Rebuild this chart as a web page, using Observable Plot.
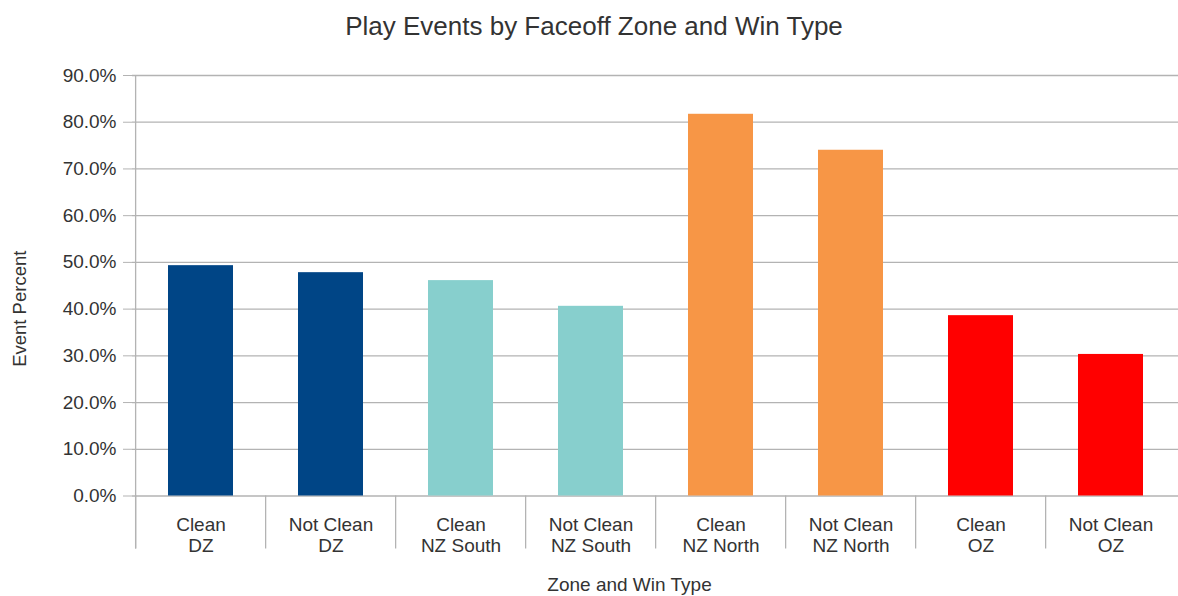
<!DOCTYPE html>
<html>
<head>
<meta charset="utf-8">
<script src="https://cdn.jsdelivr.net/npm/d3@7"></script>
<script src="https://cdn.jsdelivr.net/npm/@observablehq/plot@0.6"></script>
<style>
  html, body { margin: 0; padding: 0; background: #fff; overflow: hidden; }
  #title {
    width: 1168px; height: 49px; padding-top: 1px; padding-left: 10px; line-height: 50px;
    text-align: center; font-family: 'Liberation Sans', Arial, sans-serif;
    font-size: 26px; color: #333; white-space: nowrap;
  }
  #chart svg { display: block; }
</style>
</head>
<body>
<div id="title">Play Events by Faceoff Zone and Win Type</div>
<div id="chart"></div>
<script>
// ---- data ----
const winTypes = ["Clean", "Not Clean", "Clean", "Not Clean", "Clean", "Not Clean", "Clean", "Not Clean"];
const zones = ["DZ", "DZ", "NZ South", "NZ South", "NZ North", "NZ North", "OZ", "OZ"];
const eventPercent = [49.3, 47.8, 46.1, 40.6, 81.7, 74.0, 38.6, 30.3];
const zoneNames = ["DZ", "NZ South", "NZ North", "OZ"];
const zoneColors = ["#004586", "#87cfcd", "#f79646", "#ff0000"];
const yTicks = [0, 10, 20, 30, 40, 50, 60, 70, 80, 90];
const yLabel = "Event Percent";
const xLabel = "Zone and Win Type";

const categories = winTypes.map((w, i) => `${w}\n${zones[i]}`);
const data = categories.map((c, i) => ({category: c, zone: zones[i], value: eventPercent[i]}));

const W = 1178, ML = 132, MR = 0;
const step = (W - ML - MR) / categories.length;
const lineColor = "#b3b3b3";
const textColor = "#333";

const chart = Plot.plot({
  width: W,
  height: 546,
  marginTop: 25,
  marginBottom: 100.5,
  marginLeft: ML,
  marginRight: MR,
  style: {fontFamily: "'Liberation Sans', Arial, sans-serif", fontSize: "19px", color: textColor, background: "#fff"},
  x: {domain: categories, paddingInner: 0.5, paddingOuter: 0.25, label: null},
  y: {domain: [0, 90], label: null},
  color: {domain: zoneNames, range: zoneColors},
  marks: [
    Plot.ruleY(yTicks, {stroke: lineColor, strokeWidth: 1.3}),
    Plot.barY(data, {x: "category", y: "value", fill: "zone"}),
    Plot.ruleX([categories[0]], {x: d => d, dx: -step / 2, stroke: lineColor, strokeWidth: 1.3, insetBottom: -53}),
    Plot.ruleX(categories, {x: d => d, y1: 0, y2: 0, dx: -step / 2, stroke: lineColor, strokeWidth: 1.3, insetBottom: -53}),
    Plot.axisY({ticks: yTicks, tickSize: 9, tickPadding: 7, tickFormat: d => d.toFixed(1) + "%",
                stroke: lineColor, fill: textColor, fontSize: 19, label: null}),
    Plot.axisX({tickSize: 0, tickPadding: 19, lineHeight: 1.15, fill: textColor, fontSize: 19, label: null}),
    Plot.text([yLabel], {frameAnchor: "left", textAnchor: "middle", lineAnchor: "middle", rotate: -90,
                         dx: -112, dy: 23, fontSize: 18.5, fill: textColor}),
    Plot.text([xLabel], {frameAnchor: "bottom", textAnchor: "middle", lineAnchor: "middle",
                         dx: -26, dy: 88.5, fontSize: 19, fill: textColor})
  ]
});
document.getElementById("chart").appendChild(chart);
</script>
</body>
</html>
